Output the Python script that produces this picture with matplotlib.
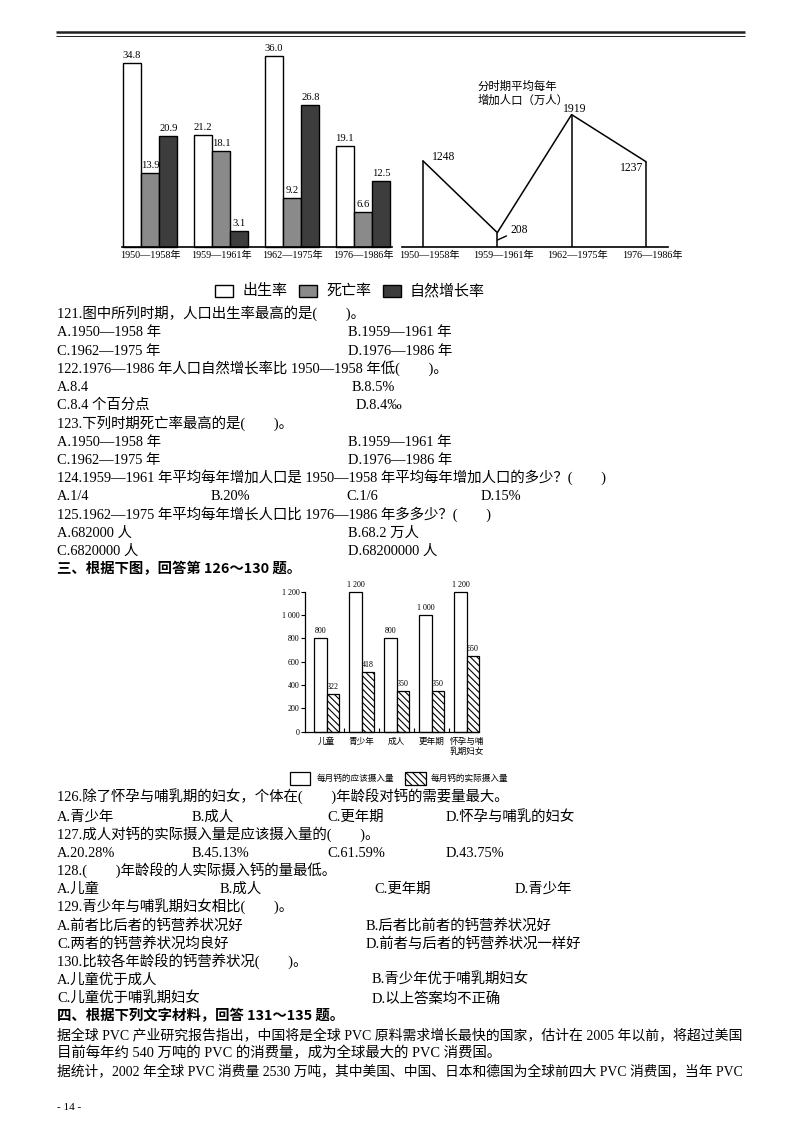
import matplotlib
matplotlib.use('Agg')
import matplotlib.pyplot as plt
from matplotlib.patches import Rectangle
import numpy as np

plt.rcParams['font.family'] = ['Liberation Serif', 'Noto Sans CJK SC']
plt.rcParams['hatch.linewidth'] = 0.8
plt.rcParams['axes.unicode_minus'] = False

# ---------------- data: chart 1 (rates, per mille) ----------------
periods = ['1950—1958年', '1959—1961年', '1962—1975年', '1976—1986年']
birth_rate = [34.8, 21.2, 36.0, 19.1]
death_rate = [13.9, 18.1, 9.2, 6.6]
growth_rate = [20.9, 3.1, 26.8, 12.5]
rate_labels = ['出生率', '死亡率', '自然增长率']
rate_colors = ['white', '#8a8a8a', '#3d3d3d']

# ---------------- data: chart 2 (average yearly increase, 10k people) ----------------
pop_increase = [1248, 208, 1919, 1237]
pop_title = ['分时期平均每年', '增加人口（万人）']

# ---------------- data: chart 3 (calcium intake) ----------------
age_groups = ['儿童', '青少年', '成人', '更年期', '怀孕与哺\n乳期妇女']
ca_should = [800, 1200, 800, 1000, 1200]
ca_actual_label = [322, 418, 350, 350, 650]
ca_actual_drawn = [322, 515, 350, 350, 650]
ca_yticks = [0, 200, 400, 600, 800, 1000, 1200]
ca_legend = ['每月钙的应该摄入量', '每月钙的实际摄入量']

# ---------------- text ----------------
block1 = [
    [(57, '121.图中所列时期，人口出生率最高的是(　　)。')],
    [(57, 'A.1950—1958 年'), (348, 'B.1959—1961 年')],
    [(57, 'C.1962—1975 年'), (348, 'D.1976—1986 年')],
    [(57, '122.1976—1986 年人口自然增长率比 1950—1958 年低(　　)。')],
    [(57, 'A.8.4'), (352, 'B.8.5%')],
    [(57, 'C.8.4 个百分点'), (356, 'D.8.4‰')],
    [(57, '123.下列时期死亡率最高的是(　　)。')],
    [(57, 'A.1950—1958 年'), (348, 'B.1959—1961 年')],
    [(57, 'C.1962—1975 年'), (348, 'D.1976—1986 年')],
    [(57, '124.1959—1961 年平均每年增加人口是 1950—1958 年平均每年增加人口的多少？(　　)')],
    [(57, 'A.1/4'), (211, 'B.20%'), (346, 'C.1/6'), (481, 'D.15%')],
    [(57, '125.1962—1975 年平均每年增长人口比 1976—1986 年多多少？(　　)')],
    [(57, 'A.682000 人'), (348, 'B.68.2 万人')],
    [(57, 'C.6820000 人'), (348, 'D.68200000 人')],
    [(57, '三、根据下图，回答第 126～130 题。', 'bold')],
]
block2 = [
    [(57, '126.除了怀孕与哺乳期的妇女，个体在(　　)年龄段对钙的需要量最大。')],
    [(57, 'A.青少年'), (192, 'B.成人'), (327, 'C.更年期'), (446, 'D.怀孕与哺乳的妇女')],
    [(57, '127.成人对钙的实际摄入量是应该摄入量的(　　)。')],
    [(57, 'A.20.28%'), (192, 'B.45.13%'), (327, 'C.61.59%'), (446, 'D.43.75%')],
    [(57, '128.(　　)年龄段的人实际摄入钙的量最低。')],
    [(57, 'A.儿童'), (220, 'B.成人'), (374, 'C.更年期'), (515, 'D.青少年')],
    [(57, '129.青少年与哺乳期妇女相比(　　)。')],
    [(57, 'A.前者比后者的钙营养状况好'), (366, 'B.后者比前者的钙营养状况好')],
    [(57, 'C.两者的钙营养状况均良好'), (366, 'D.前者与后者的钙营养状况一样好')],
    [(57, '130.比较各年龄段的钙营养状况(　　)。')],
    [(57, 'A.儿童优于成人'), (372, 'B.青少年优于哺乳期妇女')],
    [(57, 'C.儿童优于哺乳期妇女'), (372, 'D.以上答案均不正确')],
    [(57, '四、根据下列文字材料，回答 131～135 题。', 'bold')],
    [(57, '据全球 PVC 产业研究报告指出，中国将是全球 PVC 原料需求增长最快的国家，估计在 2005 年以前，将超过美国', 'justify')],
    [(57, '目前每年约 540 万吨的 PVC 的消费量，成为全球最大的 PVC 消费国。')],
    [(57, '据统计，2002 年全球 PVC 消费量 2530 万吨，其中美国、中国、日本和德国为全球前四大 PVC 消费国，当年 PVC', 'justify')],
]
page_number = '- 14 -'

# ---------------- figure ----------------
W, H = 800, 1132
fig = plt.figure(figsize=(W / 100, H / 100), dpi=100)
fig.patch.set_facecolor('white')


def px_axes(x0, y0, x1, y1):
    return fig.add_axes([x0 / W, 1 - y1 / H, (x1 - x0) / W, (y1 - y0) / H])


page = px_axes(0, 0, W, H)
page.set_xlim(0, W)
page.set_ylim(H, 0)
page.axis('off')

# header rule
page.plot([56, 745], [32.3, 32.3], color='#222222', lw=1.8, solid_capstyle='butt')
page.plot([56, 745], [35.8, 35.8], color='#222222', lw=0.7, solid_capstyle='butt')

# ---------------- chart 1 ----------------
ax1 = px_axes(122, 40, 392, 247)
gx = np.arange(len(periods))
bw = 0.258
for k, (vals, col) in enumerate(zip([birth_rate, death_rate, growth_rate], rate_colors)):
    bars = ax1.bar(gx + (k - 1) * bw, vals, bw, color=col, edgecolor='black', lw=1.0, clip_on=False)
    for b, v in zip(bars, vals):
        ax1.annotate(f'{v:.1f}', (b.get_x() + b.get_width() / 2, v), xytext=(0, 3),
                     textcoords='offset pixels', ha='center', va='bottom', fontsize=7.6)
ax1.set_xlim((122 - 150) / 71, (392 - 150) / 71)
ax1.set_ylim(0, (247 - 40) / 5.3)
for s in ['top', 'left', 'right']:
    ax1.spines[s].set_visible(False)
ax1.spines['bottom'].set_linewidth(1.2)
ax1.set_yticks([])
ax1.set_xticks(gx)
ax1.set_xticklabels(periods, fontsize=7.3)
ax1.tick_params(axis='x', length=0, pad=3)
ax1.patch.set_alpha(0)

# legend for chart 1
leg_x = [(215, 243), (299, 326), (383, 410)]
for (bx, tx), lab, col in zip(leg_x, rate_labels, rate_colors):
    page.add_patch(Rectangle((bx, 285), 18, 12, facecolor=col, edgecolor='black', lw=1.0))
    page.text(tx, 291, lab, fontsize=10.8, va='center', ha='left', family=['Noto Sans CJK SC'])

# ---------------- chart 2 ----------------
ax2 = px_axes(402, 60, 668, 247)
px = np.arange(len(pop_increase))
ax2.plot(px, pop_increase, color='black', lw=1.1)
ax2.vlines(px, 0, pop_increase, color='black', lw=1.1)
ax2.set_xlim((402 - 423) / 74.3, (668 - 423) / 74.3)
ax2.set_ylim(0, 187 / 0.069)
for s in ['top', 'left', 'right']:
    ax2.spines[s].set_visible(False)
ax2.spines['bottom'].set_linewidth(1.2)
ax2.set_xticks([])
ax2.set_yticks([])
ax2.patch.set_alpha(0)
label_style = [dict(xytext=(9, 4), ha='left', va='center'),
               dict(xytext=(22, 10), ha='center', va='center'),
               dict(xytext=(3, 0), ha='center', va='bottom'),
               dict(xytext=(-3, -6), ha='right', va='center')]
for i, (v, st) in enumerate(zip(pop_increase, label_style)):
    if i == 1:
        ax2.annotate(str(v), (i, 100), textcoords='offset pixels', fontsize=8.4,
                     arrowprops=dict(arrowstyle='-', lw=1.0, color='black', shrinkA=1, shrinkB=0), **st)
    else:
        ax2.annotate(str(v), (i, v), textcoords='offset pixels', fontsize=8.4, **st)
for i, lab in enumerate(periods):
    ax2.annotate(lab, (i, 0), xytext=(6, -4), textcoords='offset pixels', ha='center', va='top',
                 fontsize=7.3, annotation_clip=False)
page.text(478, 86, pop_title[0], fontsize=8.2, va='center', ha='left', family=['Noto Sans CJK SC'])
page.text(478, 100, pop_title[1], fontsize=8.2, va='center', ha='left', family=['Noto Sans CJK SC'])

# ---------------- chart 3 ----------------
ax3 = px_axes(305, 591.7, 479, 731.7)
cx = np.arange(len(age_groups))
bw3 = 12.4 / 35
ax3.set_xlim((305 - 326.7) / 35, (479 - 326.7) / 35)
ax3.set_ylim(0, 1200)
b_s = ax3.bar(cx - bw3 / 2, ca_should, bw3, color='white', edgecolor='black', lw=0.9, clip_on=False)
b_a = ax3.bar(cx + bw3 / 2, ca_actual_drawn, bw3, color='white', edgecolor='black', lw=0.9,
              hatch='\\\\\\\\\\', clip_on=False)


def fmt_num(v):
    return f'{v:,}'.replace(',', ' ')


for b, v in zip(b_s, ca_should):
    ax3.annotate(fmt_num(v), (b.get_x() + b.get_width() / 2, v), xytext=(0, 3),
                 textcoords='offset pixels', ha='center', va='bottom', fontsize=5.8)
for b, v, lab in zip(b_a, ca_actual_drawn, ca_actual_label):
    ax3.annotate(fmt_num(lab), (b.get_x() + b.get_width() / 2, v), xytext=(0, 3),
                 textcoords='offset pixels', ha='center', va='bottom', fontsize=5.8)
for s in ['top', 'right']:
    ax3.spines[s].set_visible(False)
ax3.spines['left'].set_linewidth(0.9)
ax3.spines['bottom'].set_linewidth(0.9)
ax3.set_yticks(ca_yticks)
ax3.set_yticklabels([fmt_num(v) for v in ca_yticks], fontsize=5.8)
ax3.tick_params(axis='y', direction='out', length=3, width=0.8, pad=1)
ax3.set_xticks(cx)
ax3.set_xticklabels(age_groups, fontsize=6.2, family=['Noto Sans CJK SC'], linespacing=1.1)
ax3.tick_params(axis='x', length=0, pad=4)
ax3.set_xticks(cx[:-1] + 0.5, minor=True)
ax3.tick_params(axis='x', which='minor', direction='in', length=3, width=0.8)
ax3.patch.set_alpha(0)

# legend for chart 3
page.add_patch(Rectangle((290, 772), 20, 13, facecolor='white', edgecolor='black', lw=0.9))
page.text(317, 778.5, ca_legend[0], fontsize=6.2, va='center', ha='left', family=['Noto Sans CJK SC'])
page.add_patch(Rectangle((405, 772), 21, 13, facecolor='white', edgecolor='black', lw=0.9,
                         hatch='\\\\\\\\\\'))
page.text(431, 778.5, ca_legend[1], fontsize=6.2, va='center', ha='left', family=['Noto Sans CJK SC'])

# ---------------- text blocks ----------------
line_gap = 18.2
FS = 10.4
renderer = fig.canvas.get_renderer()
right_edge = 740


def draw_block(rows, y0):
    for i, row in enumerate(rows):
        yb = y0 + i * line_gap + 5.2
        for item in row:
            kind = item[2] if len(item) == 3 else ''
            if kind == 'bold':
                page.text(item[0], yb, item[1], fontsize=FS, va='baseline', ha='left',
                          fontweight='bold', family=['Noto Sans CJK SC'])
            else:
                t = page.text(item[0], yb, item[1], fontsize=FS, va='baseline', ha='left')
                if kind == 'justify':
                    wpx = t.get_window_extent(renderer=renderer).width
                    t.set_fontsize(FS * (right_edge - item[0]) / wpx)


draw_block(block1, 313)
draw_block(block2, 797)
page.text(57, 1107, page_number, fontsize=8, va='center', ha='left')

fig.savefig('out.png', dpi=100, facecolor='white')
